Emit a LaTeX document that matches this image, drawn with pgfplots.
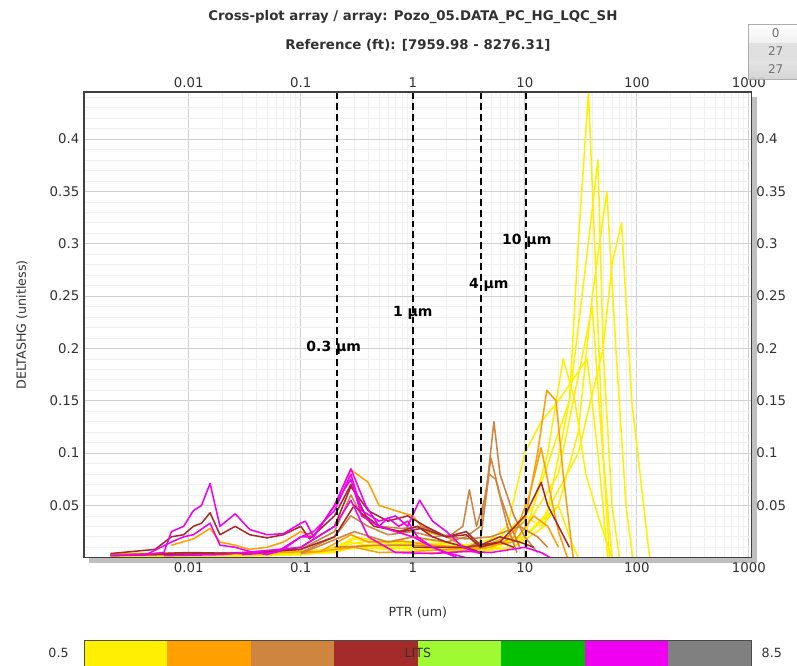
\documentclass[border=0pt]{standalone}
\usepackage{fontspec}
\setmainfont{DejaVu Sans}
\usepackage{pgfplots}
\pgfplotsset{compat=1.18}
\definecolor{ylw}{RGB}{255,240,0}
\definecolor{org}{RGB}{255,160,0}
\definecolor{peru}{RGB}{205,133,63}
\definecolor{brn}{RGB}{165,42,42}
\definecolor{mag}{RGB}{240,0,240}
\definecolor{lgrn}{RGB}{160,250,50}
\definecolor{grn}{RGB}{0,190,0}
\definecolor{gry}{RGB}{128,128,128}
\definecolor{txt}{RGB}{50,50,50}

\begin{document}
\begin{tikzpicture}[x=1pt,y=1pt]
\useasboundingbox (-63,-81) rectangle (535,418.5);
% shadow of the plot box
\fill[black!25] (4,-4) rectangle (505,345.5);
\begin{axis}[
    at={(0,0)}, anchor=south west,
    scale only axis, width=501pt, height=349.5pt,
    xmode=log, xmin=0.00116, xmax=1060,
    ymin=0, ymax=0.445,
    axis background/.style={fill=white},
    axis line style={draw=black!75, line width=1pt},
    xtick={0.01,0.1,1,10,100,1000},
    xticklabels={0.01,0.1,1,10,100,1000},
    ytick={0.05,0.1,0.15,0.2,0.25,0.3,0.35,0.4},
    yticklabels={0.05,0.1,0.15,0.2,0.25,0.3,0.35,0.4},
    minor ytick={0.01,0.02,...,0.44},
    major tick length=0pt, minor tick length=0pt,
    grid=both,
    major grid style={draw=black!18, line width=0.6pt},
    minor grid style={draw=black!6, line width=0.5pt},
    tick label style={font=\fontsize{10}{11}\selectfont, text=txt},
    every axis plot/.append style={line width=1.15pt, line join=round, mark=none},
    clip=true,
]
% low yellow band and high yellow peaks
\addplot[ylw] coordinates {(0.002,0.001)(0.01,0.002)(0.05,0.003)(0.1,0.005)(0.2,0.008)(0.28,0.015)(0.4,0.012)(0.7,0.01)(1,0.012)(2,0.01)(4,0.006)(8,0.01)(15,0.03)(25,0.15)(30,0.3)(37,0.445)(42,0.3)(50,0.1)(57,0)};
\addplot[ylw] coordinates {(0.002,0.002)(0.02,0.003)(0.1,0.004)(0.2,0.01)(0.3,0.018)(0.5,0.014)(1,0.015)(2,0.012)(3,0.008)(5,0.01)(10,0.02)(20,0.05)(30,0.12)(40,0.25)(54,0.35)(65,0.2)(80,0.05)(92,0)};
\addplot[ylw] coordinates {(0.003,0.001)(0.05,0.002)(0.15,0.005)(0.25,0.012)(0.4,0.016)(0.8,0.012)(1.5,0.01)(3,0.012)(5,0.008)(8,0.01)(15,0.04)(30,0.1)(50,0.2)(60,0.28)(73,0.32)(90,0.15)(130,0)};
\addplot[ylw] coordinates {(0.005,0.002)(0.1,0.003)(0.2,0.006)(0.3,0.01)(0.6,0.008)(1,0.01)(2,0.008)(5,0.01)(10,0.02)(16,0.1)(22,0.19)(28,0.15)(35,0.08)(45,0.04)(60,0)};
\addplot[ylw] coordinates {(0.002,0.003)(0.03,0.004)(0.2,0.008)(0.3,0.02)(0.5,0.016)(1,0.012)(2,0.014)(4,0.01)(7,0.03)(10,0.1)(14,0.13)(20,0.15)(36,0.19)(45,0.1)(55,0)};
\addplot[ylw] coordinates {(0.004,0.002)(0.1,0.004)(0.25,0.01)(0.5,0.01)(1,0.008)(3,0.006)(6,0.01)(12,0.05)(25,0.15)(35,0.28)(45,0.38)(50,0.2)(60,0.05)(70,0)};
\addplot[ylw] coordinates {(0.002,0.001)(0.05,0.002)(0.2,0.005)(0.35,0.012)(0.7,0.015)(1.2,0.012)(2.5,0.01)(5,0.012)(9,0.02)(20,0.08)(40,0.24)(48,0.12)(60,0)};
\addplot[ylw] coordinates {(0.01,0.001)(0.1,0.003)(0.25,0.008)(0.5,0.012)(1,0.02)(1.5,0.016)(3,0.012)(6,0.02)(10,0.04)(14,0.03)(20,0.05)(25,0.02)(30,0)};
% orange
\addplot[org] coordinates {(0.007,0.012)(0.011,0.018)(0.0155,0.028)(0.019,0.015)(0.026,0.012)(0.035,0.008)(0.05,0.01)(0.07,0.015)(0.1,0.025)(0.13,0.02)(0.2,0.05)(0.28,0.084)(0.4,0.072)(0.5,0.05)(0.7,0.045)(1,0.04)(1.3,0.025)(2,0.02)(3,0.01)(4,0.004)};
\addplot[org] coordinates {(0.1,0.004)(0.3,0.01)(0.5,0.005)(1,0.006)(2,0.008)(4,0.01)(7,0.02)(10,0.035)(13,0.1)(15.7,0.16)(19,0.15)(22,0.08)(27,0)};
\addplot[org] coordinates {(1,0.004)(2,0.005)(5,0.01)(8,0.02)(11,0.06)(14,0.105)(17,0.06)(20,0.025)(24,0)};
\addplot[org] coordinates {(0.002,0.004)(0.05,0.005)(0.15,0.006)(0.28,0.022)(0.4,0.015)(0.8,0.016)(1.5,0.012)(3,0.01)(5,0.012)(8,0.015)(12,0.04)(16,0.03)(20,0.01)};
% peru
\addplot[peru] coordinates {(0.1,0.005)(0.2,0.02)(0.28,0.04)(0.4,0.03)(0.6,0.022)(1,0.025)(1.5,0.02)(2.2,0.022)(2.8,0.03)(3.2,0.065)(3.7,0.03)(4.5,0.06)(5.3,0.13)(6,0.08)(8,0.04)(10,0.02)(13,0.005)};
\addplot[peru] coordinates {(0.1,0.004)(0.3,0.025)(0.6,0.015)(1,0.02)(2,0.015)(3,0.02)(4,0.03)(5,0.095)(6,0.06)(7.5,0.03)(9,0.01)};
\addplot[peru] coordinates {(0.2,0.01)(0.5,0.012)(1,0.012)(2,0.01)(3,0.01)(4,0.015)(4.8,0.08)(5.5,0.075)(7,0.03)(8.5,0.005)};
\addplot[peru] coordinates {(0.002,0.003)(0.02,0.004)(0.1,0.008)(0.2,0.025)(0.28,0.06)(0.35,0.04)(0.5,0.03)(0.8,0.028)(1.2,0.03)(2,0.02)(3,0.018)(5,0.02)(9,0.03)(13,0.02)(16,0.01)};
% brown
\addplot[brn] coordinates {(0.002,0.004)(0.005,0.008)(0.007,0.02)(0.009,0.022)(0.011,0.03)(0.013,0.033)(0.0155,0.043)(0.019,0.022)(0.026,0.03)(0.035,0.022)(0.05,0.019)(0.07,0.022)(0.1,0.03)(0.12,0.018)(0.2,0.04)(0.28,0.07)(0.38,0.04)(0.5,0.03)(0.75,0.025)(1.1,0.03)(1.5,0.02)(2,0.015)(3,0.01)(4,0.005)};
\addplot[brn] coordinates {(0.002,0.002)(0.05,0.005)(0.1,0.01)(0.2,0.03)(0.28,0.068)(0.4,0.045)(0.6,0.035)(0.9,0.04)(1.3,0.03)(2,0.02)(3,0.022)(4,0.01)(6,0.015)(8,0.01)};
\addplot[brn] coordinates {(1,0.01)(3,0.01)(6,0.015)(10,0.04)(14,0.072)(16,0.05)(20,0.03)(25,0.01)};
\addplot[brn] coordinates {(0.003,0.003)(0.01,0.005)(0.03,0.004)(0.1,0.008)(0.2,0.02)(0.3,0.05)(0.45,0.03)(0.8,0.025)(1.2,0.028)(2,0.02)(3,0.025)(4,0.012)(6,0.02)(9,0.015)(12,0.01)};
% magenta
\addplot[mag] coordinates {(0.002,0.002)(0.004,0.003)(0.006,0.005)(0.007,0.025)(0.009,0.03)(0.011,0.045)(0.013,0.05)(0.0155,0.071)(0.019,0.03)(0.026,0.042)(0.035,0.027)(0.05,0.022)(0.07,0.023)(0.1,0.033)(0.11,0.035)(0.13,0.02)(0.2,0.05)(0.28,0.085)(0.38,0.05)(0.5,0.03)(0.6,0.038)(0.75,0.03)(0.9,0.035)(1.1,0.02)(1.5,0.01)(2,0.005)(3,0)};
\addplot[mag] coordinates {(0.004,0.002)(0.007,0.015)(0.009,0.02)(0.011,0.022)(0.0155,0.033)(0.019,0.012)(0.026,0.01)(0.035,0.006)(0.05,0.003)(0.07,0.008)(0.1,0.02)(0.13,0.025)(0.2,0.045)(0.28,0.08)(0.35,0.045)(0.5,0.035)(0.7,0.04)(0.9,0.03)(1.15,0.055)(1.5,0.035)(2,0.025)(2.8,0.01)(4,0.004)};
\addplot[mag] coordinates {(0.03,0.003)(0.06,0.005)(0.1,0.02)(0.13,0.02)(0.2,0.05)(0.28,0.075)(0.35,0.04)(0.5,0.03)(0.7,0.025)(1,0.02)(1.5,0.01)(2.5,0)};
\addplot[mag] coordinates {(0.006,0.002)(0.02,0.003)(0.1,0.01)(0.2,0.03)(0.28,0.055)(0.4,0.02)(0.7,0.005)(1.5,0.004)(3,0.006)(5,0.005)(10,0.01)(14,0.005)(17,0)};
% dashed pore throat limits
\addplot[black, line width=1.4pt, dash pattern=on 5pt off 3pt] coordinates {(0.21,0)(0.21,0.445)};
\addplot[black, line width=1.4pt, dash pattern=on 5pt off 3pt] coordinates {(1,0)(1,0.445)};
\addplot[black, line width=1.4pt, dash pattern=on 5pt off 3pt] coordinates {(4.05,0)(4.05,0.445)};
\addplot[black, line width=1.4pt, dash pattern=on 5pt off 3pt] coordinates {(10.2,0)(10.2,0.445)};
\node[font=\bfseries\fontsize{10.5}{12}\selectfont] at (axis cs:0.197,0.201) {0.3 µm};
\node[font=\bfseries\fontsize{10.5}{12}\selectfont] at (axis cs:1,0.234) {1 µm};
\node[font=\bfseries\fontsize{10.5}{12}\selectfont] at (axis cs:4.77,0.261) {4 µm};
\node[font=\bfseries\fontsize{10.5}{12}\selectfont] at (axis cs:10.4,0.303) {10 µm};
\end{axis}
% mirrored labels on top and right
\begin{axis}[
    at={(0,0)}, anchor=south west,
    scale only axis, width=501pt, height=349.5pt,
    xmode=log, xmin=0.00116, xmax=1060,
    ymin=0, ymax=0.445,
    axis line style={draw=none},
    xtick={0.01,0.1,1,10,100,1000},
    xticklabels={0.01,0.1,1,10,100,1000},
    ytick={0.05,0.1,0.15,0.2,0.25,0.3,0.35,0.4},
    yticklabels={0.05,0.1,0.15,0.2,0.25,0.3,0.35,0.4},
    xticklabel pos=right, yticklabel pos=right,
    major tick length=0pt, minor tick length=0pt,
    tick label style={font=\fontsize{10}{11}\selectfont, text=txt},
]
\end{axis}
\draw[black!75, line width=1pt] (0,0) rectangle (501,349.5);
% titles and axis labels
\node[font=\bfseries\fontsize{10}{12}\selectfont, text=txt] at (246.75,405.75) {Cross-plot array / array: Pozo\_05.DATA\_PC\_HG\_LQC\_SH};
\node[font=\bfseries\fontsize{10}{12}\selectfont, text=txt] at (250.5,384.75) {Reference (ft): [7959.98 - 8276.31]};
\node[font=\fontsize{9.5}{11}\selectfont, text=txt, rotate=90] at (-46.5,174.75) {DELTASHG (unitless)};
\node[font=\fontsize{9.5}{11}\selectfont, text=txt] at (250.5,-41.25) {PTR (um)};
% LITS colour scale
\foreach \c [count=\i from 0] in {ylw,org,peru,brn,lgrn,grn,mag,gry} {
  \fill[\c] ({\i*62.625},-62.25) rectangle ({(\i+1)*62.625},-81);
}
\draw[black!70, line width=0.6pt] (0,-62.25) rectangle (501,-81.5);
\node[font=\fontsize{9.5}{11}\selectfont, text=txt] at (250.5,-71.6) {LITS};
\node[font=\fontsize{9.5}{11}\selectfont, text=txt, anchor=east] at (-8,-71.6) {0.5};
\node[font=\fontsize{9.5}{11}\selectfont, text=txt, anchor=west] at (505,-71.6) {8.5};
% count box
\shade[top color=white, bottom color=black!18, opacity=0.9, draw=black!35] (498.75,359.25) rectangle (535,400);
\fill[black!12] (498.75,373) rectangle (535,386);
\node[font=\fontsize{9}{10}\selectfont, text=black!55] at (519,393.5) {0};
\node[font=\fontsize{9}{10}\selectfont, text=black!55] at (519,380) {27};
\node[font=\fontsize{9}{10}\selectfont, text=black!55] at (519,367) {27};
\end{tikzpicture}
\end{document}
